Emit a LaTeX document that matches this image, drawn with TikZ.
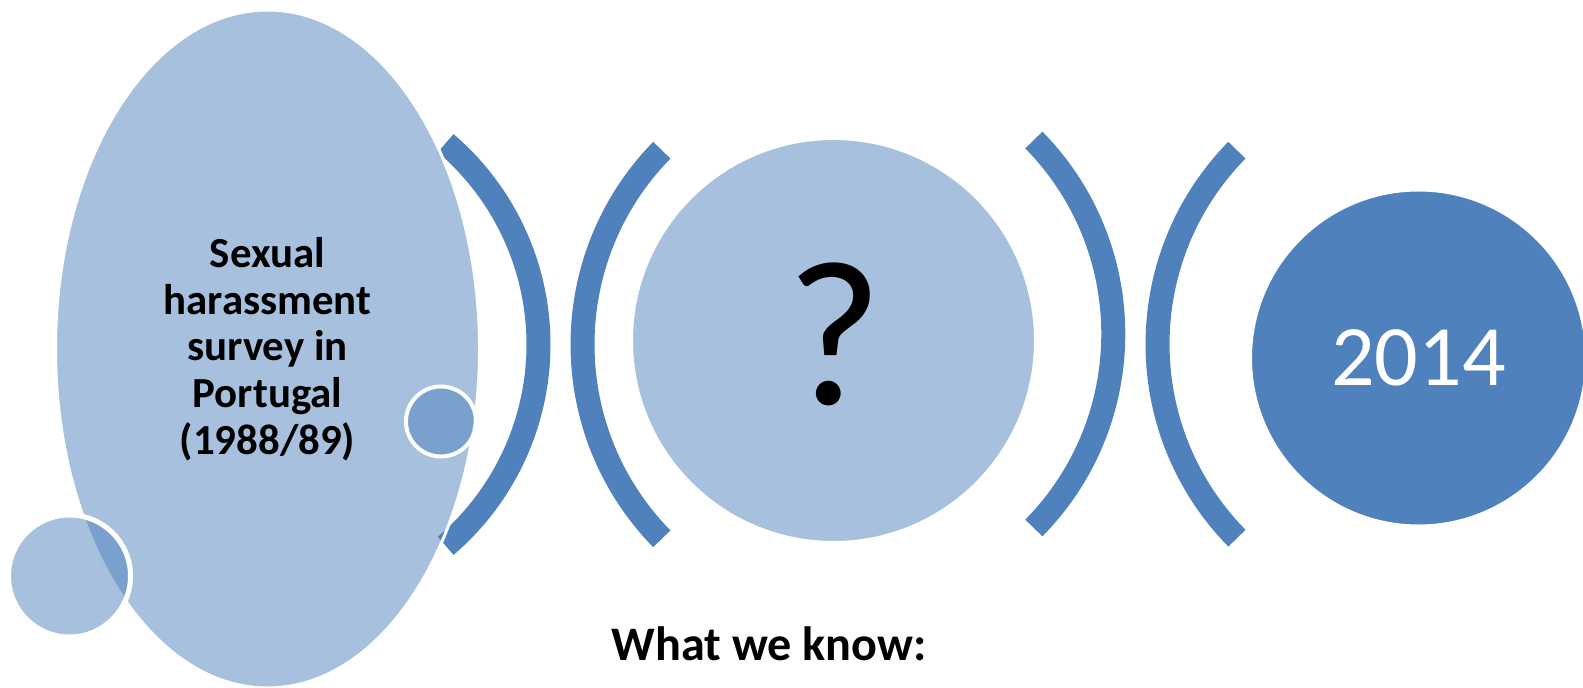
\documentclass[tikz,border=0pt]{standalone}
\usepackage{fontspec}
\setmainfont{Carlito}
\usetikzlibrary{positioning, shapes.geometric}
\definecolor{stageblue}{HTML}{4F81BD}

\begin{document}
\begin{tikzpicture}[
    bubble/.style={circle, fill=stageblue, fill opacity=0.5, text opacity=1, draw=white, line width=0.03cm, inner sep=0pt},
    dot/.style={circle, fill=stageblue, fill opacity=0.5, draw=white, line width=0.05cm, inner sep=0pt},
    bracket/.style={draw=stageblue, line width=0.24cm},
    caption/.style={font=\bfseries\fontsize{13.7}{16}\selectfont, anchor=base west, inner sep=0pt}
]
\useasboundingbox (0,0) rectangle (15.83,6.87);

% Brackets between the stages
\draw[bracket] (2.737,3.425) ++(-49.5:2.648) arc[start angle=-49.5, end angle=49.5, radius=2.648];
\draw[bracket] (8.602,3.425) ++(135.6:2.777) arc[start angle=135.6, end angle=224.4, radius=2.777];
\draw[bracket] (8.368,3.53) ++(-44.55:2.765) arc[start angle=-44.55, end angle=44.55, radius=2.765];
\draw[bracket] (14.343,3.428) ++(135.5:2.768) arc[start angle=135.5, end angle=224.5, radius=2.768];

% First stage: the 1988/89 survey
\node[bubble, ellipse, minimum width=4.24cm, minimum height=6.78cm, align=center,
      font=\bfseries\fontsize{12.2}{13.3}\selectfont] (survey) at (2.675,3.38)
      {Sexual\\harassment\\survey in\\Portugal\\(1988/89)};
\node[dot, minimum size=1.22cm] (dotA) at (0.695,1.11) {};
\node[dot, minimum size=0.70cm, line width=0.04cm] (dotB) at (4.41,2.655) {};

% Unknown middle stage
\node[bubble, minimum size=4.04cm] (unknown) at (8.335,3.465) {};
\node[font=\fontsize{59}{66}\selectfont, inner sep=0pt] (qmark) at (8.345,3.53) {?};

% Last stage
\node[circle, fill=stageblue, draw=white, line width=0.03cm, inner sep=0pt, minimum size=3.36cm,
      text=white, font=\fontsize{24.5}{29}\selectfont] (now) at (14.185,3.29) {2014};

\node[caption] (know) at (6.11,0.27) {What we know:};

\end{tikzpicture}
\end{document}
